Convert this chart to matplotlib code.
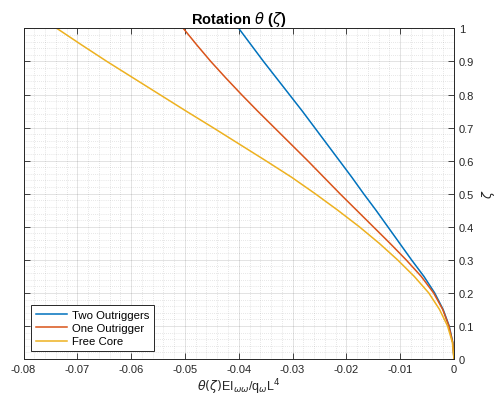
import matplotlib
matplotlib.use("Agg")
import matplotlib.pyplot as plt
from matplotlib.ticker import MultipleLocator, AutoMinorLocator, FormatStrFormatter

plt.rcParams['font.family'] = ['Liberation Sans', 'DejaVu Sans']
plt.rcParams['mathtext.fontset'] = 'dejavusans'

zeta = [0.0, 0.05, 0.1, 0.15, 0.2, 0.25, 0.3, 0.35, 0.4, 0.45, 0.5,
        0.55, 0.6, 0.65, 0.7, 0.75, 0.8, 0.85, 0.9, 0.95, 1.0]

theta_two = [0.0, -0.00023, -0.0009, -0.00203, -0.0036, -0.0056, -0.0079, -0.0101, -0.0123,
             -0.0145, -0.0168, -0.0190, -0.0213, -0.0236, -0.0259, -0.0282, -0.0306,
             -0.0330, -0.0354, -0.0377, -0.0400]

theta_one = [0.0, -0.00024, -0.00095, -0.0021, -0.0038, -0.0061, -0.0089, -0.0119, -0.0150,
             -0.0181, -0.0212, -0.0242, -0.0272, -0.0303, -0.0334, -0.0365, -0.0395,
             -0.0424, -0.0452, -0.0478, -0.0503]

theta_free = [0.0, -0.0003, -0.0012, -0.0027, -0.0047, -0.0074, -0.0105, -0.0139, -0.0176,
              -0.0216, -0.0258, -0.0302, -0.0350, -0.0399, -0.0448, -0.0498, -0.0547,
              -0.0596, -0.0645, -0.0692, -0.0738]

labels = ['Two Outriggers', 'One Outrigger', 'Free Core']
colors = ['#0072BD', '#D95319', '#EDB120']

fig = plt.figure(figsize=(4.97, 4.14), dpi=100)
ax = fig.add_axes([0.0473, 0.1304, 0.9135 - 0.0473, 0.929 - 0.1304])

for x, lab, c in zip([theta_two, theta_one, theta_free], labels, colors):
    ax.plot(x, zeta, color=c, lw=1.1, label=lab)

ax.set_xlim(-0.08, 0)
ax.set_ylim(0, 1)
ax.xaxis.set_major_locator(MultipleLocator(0.01))
ax.yaxis.set_major_locator(MultipleLocator(0.1))
ax.xaxis.set_minor_locator(AutoMinorLocator(5))
ax.yaxis.set_minor_locator(AutoMinorLocator(5))
ax.xaxis.set_major_formatter(FormatStrFormatter('%g'))
ax.yaxis.set_major_formatter(FormatStrFormatter('%g'))

ax.yaxis.tick_right()
ax.yaxis.set_label_position('right')
ax.tick_params(which='both', direction='in', top=True, bottom=True, left=True, right=True,
               labelleft=False, labelright=True, colors='#262626', labelsize=8)
ax.tick_params(which='major', length=4, width=0.6)
ax.tick_params(which='minor', length=0)

ax.grid(True, which='major', color='#262626', alpha=0.15, lw=0.6)
ax.grid(True, which='minor', color='#262626', alpha=0.22, lw=0.5, ls=(0, (1, 2)))
for s in ax.spines.values():
    s.set_color('#262626')
    s.set_linewidth(0.7)

ax.set_title(r'Rotation $\theta$ ($\zeta$)', fontsize=10.5, fontweight='bold', color='black', pad=4)
ax.set_xlabel(r'$\theta(\zeta)$EI$_{\omega\omega}$/q$_{\omega}$L$^4$', fontsize=9, color='#262626', labelpad=2)
ax.set_ylabel(r'$\zeta$', fontsize=9, color='#262626', labelpad=4)

leg = ax.legend(loc='lower left', fontsize=8.2, frameon=True, fancybox=False,
                edgecolor='#262626', framealpha=1, borderpad=0.4, handlelength=2.7,
                handletextpad=0.5, labelspacing=0.3, borderaxespad=0.7)
leg.get_frame().set_linewidth(0.7)

fig.savefig('out.png', dpi=100)
